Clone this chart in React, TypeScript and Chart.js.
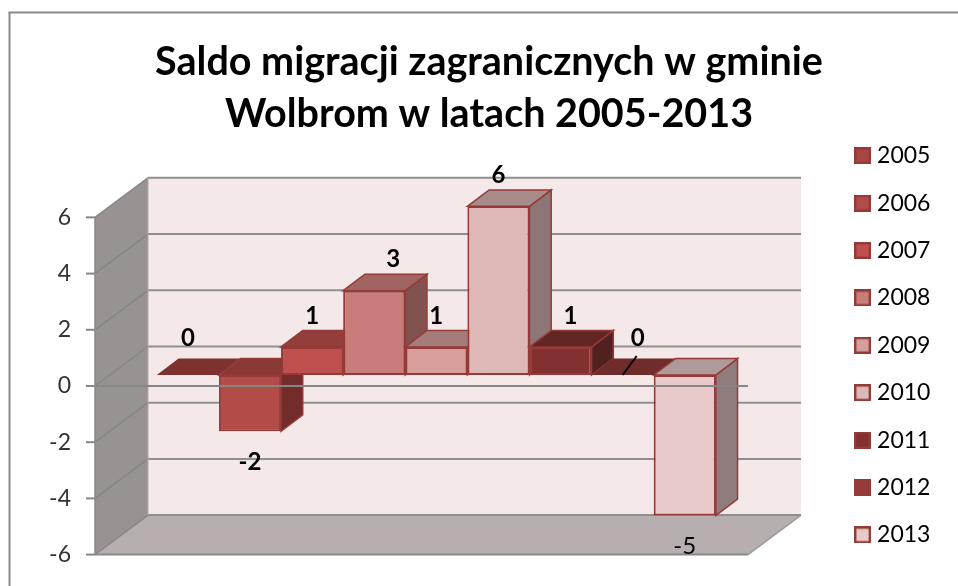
import React, { useEffect, useRef } from "react";
import { Chart, registerables } from "chart.js";

Chart.register(...registerables);

const titleLines = ["Saldo migracji zagranicznych w gminie", "Wolbrom w latach 2005-2013"];
const years = ["2005", "2006", "2007", "2008", "2009", "2010", "2011", "2012", "2013"];
const balances = [0, -2, 1, 3, 1, 6, 1, 0, -5];
const frontColors = ["#a84644", "#b34b48", "#c0504d", "#c97d7b", "#d89e9c", "#deb8b6", "#833030", "#953a37", "#e8caca"];
const topColors = ["#7e3230", "#8a3836", "#943e3c", "#a06462", "#a67c7a", "#a88c8c", "#612624", "#702c2a", "#ae9a9a"];
const sideColors = ["#6a2a28", "#722c2a", "#7c3230", "#825250", "#8a6a68", "#8f7676", "#512020", "#5c2422", "#907c7c"];
const edgeColor = "#953a38";
const labelNudgeX = [0, 0, 0, 19, 0, 0, 10, 15, 0];

const FONT = "Lato, 'Noto Sans', sans-serif";
// projection of the 3D box, relative to the plane of the bars
const FRONT = { dx: -14.8, dy: 11 };
const BACK = { dx: 38.2, dy: -28.5 };
const BAR_DEPTH = { dx: 21.7, dy: -16.4 };

function poly(ctx: CanvasRenderingContext2D, pts: number[][], fill?: string, stroke?: string, lw = 2) {
  ctx.beginPath();
  pts.forEach((p, i) => (i ? ctx.lineTo(p[0], p[1]) : ctx.moveTo(p[0], p[1])));
  ctx.closePath();
  if (fill) {
    ctx.fillStyle = fill;
    ctx.fill();
  }
  if (stroke) {
    ctx.strokeStyle = stroke;
    ctx.lineWidth = lw;
    ctx.stroke();
  }
}

function seg(ctx: CanvasRenderingContext2D, x1: number, y1: number, x2: number, y2: number, color: string, lw = 2) {
  ctx.beginPath();
  ctx.moveTo(x1, y1);
  ctx.lineTo(x2, y2);
  ctx.strokeStyle = color;
  ctx.lineWidth = lw;
  ctx.stroke();
}

const box3d = {
  id: "box3d",
  beforeDatasetsDraw(chart: any) {
    const { ctx, chartArea: a, scales } = chart;
    const y = scales.y;
    const top = y.getPixelForValue(6);
    const bot = y.getPixelForValue(-6);
    const fl = a.left + FRONT.dx;
    const fr = a.right + FRONT.dx;
    const bl = a.left + BACK.dx;
    const br = a.right + BACK.dx;
    ctx.save();
    // chart frame
    seg(ctx, 9.5, 586, 9.5, 12.5, "#8a8a8a", 2);
    seg(ctx, 8.5, 12.5, 958, 12.5, "#8a8a8a", 2);
    // walls
    poly(ctx, [[bl, top + BACK.dy], [br, top + BACK.dy], [br, bot + BACK.dy], [bl, bot + BACK.dy]], "#f4e8e8");
    poly(ctx, [[fl, top + FRONT.dy], [bl, top + BACK.dy], [bl, bot + BACK.dy], [fl, bot + FRONT.dy]], "#989392");
    poly(ctx, [[fl, bot + FRONT.dy], [bl, bot + BACK.dy], [br, bot + BACK.dy], [fr, bot + FRONT.dy]], "#b7afaf");
    // grid lines
    for (const t of y.ticks) {
      const py = y.getPixelForValue(t.value);
      seg(ctx, bl, py + BACK.dy, br, py + BACK.dy, "#8f8f8f", 2);
      seg(ctx, fl, py + FRONT.dy, bl, py + BACK.dy, "#868686", 1.5);
      seg(ctx, fl - 9, py + FRONT.dy, fl, py + FRONT.dy, "#868686", 2);
    }
    seg(ctx, bl, top + BACK.dy, bl, bot + BACK.dy, "#b0abab", 1);
    seg(ctx, fl, top + FRONT.dy, fl, bot + FRONT.dy, "#8a8a8a", 1.5);
    seg(ctx, fl, bot + FRONT.dy, fr, bot + FRONT.dy, "#8a8a8a", 2);
    seg(ctx, fr, bot + FRONT.dy, br, bot + BACK.dy, "#9a9a9a", 1.5);
    // depth faces of the bars, left to right
    balances.forEach((v, i) => {
      const bar = chart.getDatasetMeta(i).data[0];
      const x1 = bar.x - bar.width / 2;
      const x2 = bar.x + bar.width / 2;
      const yTop = Math.min(bar.y, bar.base);
      const yBot = Math.max(bar.y, bar.base);
      const d = BAR_DEPTH;
      const hasHeight = v !== 0;
      if (hasHeight) {
        poly(ctx, [[x2, yTop], [x2 + d.dx, yTop + d.dy], [x2 + d.dx, yBot + d.dy], [x2, yBot]], sideColors[i], edgeColor, 1.5);
      }
      poly(ctx, [[x1, yTop], [x1 + d.dx, yTop + d.dy], [x2 + d.dx, yTop + d.dy], [x2, yTop]], topColors[i], hasHeight ? edgeColor : undefined, 1.5);
    });
    ctx.restore();
  },
  afterDatasetsDraw(chart: any) {
    const { ctx, chartArea: a, scales } = chart;
    const y = scales.y;
    ctx.save();
    // the zero axis line runs in front of the columns
    const z = y.getPixelForValue(0) + FRONT.dy;
    seg(ctx, a.left + FRONT.dx, z, a.right + FRONT.dx, z, "#868686", 2);
    // data labels
    ctx.textAlign = "center";
    ctx.textBaseline = "middle";
    balances.forEach((v, i) => {
      const bar = chart.getDatasetMeta(i).data[0];
      const ly = v < 0 ? bar.y + 31 : bar.y - 31 - (v === 0 ? 6 : 0);
      ctx.font = `${v === balances[8] ? 400 : 700} 24px ${FONT}`;
      ctx.fillStyle = "#000";
      ctx.fillText(String(v), bar.x + labelNudgeX[i], ly);
    });
    // leader line of the 2012 label
    const b = chart.getDatasetMeta(7).data[0];
    seg(ctx, b.x, b.y, b.x + 14, b.y - 19, "#000", 2);
    ctx.restore();
  },
};

function legendSwatch(fill: string) {
  const c = document.createElement("canvas");
  c.width = 17;
  c.height = 17;
  const g = c.getContext("2d")!;
  g.fillStyle = fill;
  g.fillRect(0, 0, 17, 17);
  g.strokeStyle = edgeColor;
  g.lineWidth = 2.4;
  g.strokeRect(1.2, 1.2, 14.6, 14.6);
  return c;
}

export default function App() {
  const ref = useRef<HTMLCanvasElement>(null);
  useEffect(() => {
    const chart = new Chart(ref.current!, {
      type: "bar",
      data: {
        labels: [""],
        datasets: years.map((year, i) => ({
          label: year,
          data: [balances[i]],
          backgroundColor: frontColors[i],
          borderColor: edgeColor,
          borderWidth: 2,
          borderSkipped: false,
        })),
      },
      options: {
        animation: false,
        responsive: false,
        events: [],
        barPercentage: 1,
        categoryPercentage: 0.856,
        layout: { autoPadding: false, padding: { top: 36, left: 37.6, right: 17.6, bottom: 15.2 } },
        plugins: {
          tooltip: { enabled: false },
          title: {
            display: true,
            text: titleLines,
            color: "#000",
            font: { family: FONT, size: 39.5, weight: "bold", lineHeight: 1.316 },
            padding: { top: 0, bottom: 66.4 },
          },
          legend: {
            position: "right",
            align: "end",
            labels: {
              usePointStyle: true,
              pointStyleWidth: 6,
              padding: 24.4,
              color: "#262626",
              font: { family: FONT, size: 23 },
              generateLabels: () =>
                years.map((year, i) => ({
                  text: year,
                  pointStyle: legendSwatch(frontColors[i]),
                  fillStyle: frontColors[i],
                  strokeStyle: edgeColor,
                  lineWidth: 0,
                  datasetIndex: i,
                  hidden: false,
                })),
            },
          },
        },
        scales: {
          x: {
            grid: { display: false },
            border: { display: false },
            ticks: { display: false },
            afterFit: (s: any) => {
              s.height = 27.2;
            },
          },
          y: {
            min: -6,
            max: 6,
            grid: { display: false, drawTicks: false },
            border: { display: false },
            ticks: {
              stepSize: 2,
              padding: 38.8,
              labelOffset: 11,
              color: "#333",
              font: { family: FONT, size: 23 },
            },
            afterFit: (s: any) => {
              s.width = 72.2;
              s.paddingTop = 0;
              s.paddingBottom = 0;
            },
          },
          spacer: {
            position: "right",
            grid: { display: false },
            border: { display: false },
            ticks: { display: false },
            afterFit: (s: any) => {
              s.width = 72.3;
            },
          },
        },
      } as any,
      plugins: [box3d],
    });
    return () => chart.destroy();
  }, []);
  return (
    <div style={{ position: "absolute", left: 0, top: 0, width: 958, height: 586, background: "#fff" }}>
      <canvas ref={ref} width={958} height={586} style={{ display: "block" }} />
    </div>
  );
}
